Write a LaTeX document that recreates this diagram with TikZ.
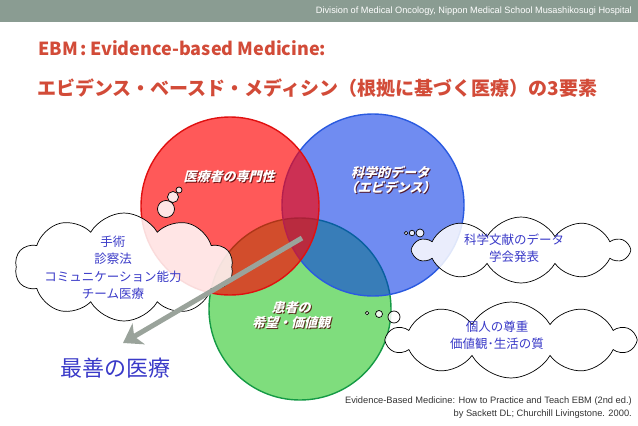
\documentclass[tikz,border=0pt]{standalone}
\usepackage{fontspec}
\setmainfont{Liberation Sans}
\newfontfamily\jp{Noto Sans CJK JP}
\newfontfamily\jpsl{Noto Sans CJK JP}[FakeSlant=0.25]
\usetikzlibrary{shapes.symbols,arrows.meta}
\definecolor{band}{HTML}{8A9C92}
\definecolor{titlered}{HTML}{D24B38}
\definecolor{txtblue}{HTML}{3A3AC8}
\definecolor{redbase}{RGB}{255,0,0}
\definecolor{bluebase}{RGB}{0,50,230}
\definecolor{greenbase}{RGB}{10,190,5}
\definecolor{rededge}{HTML}{E01010}
\definecolor{blueedge}{HTML}{2A5AE0}
\definecolor{greenedge}{HTML}{159A45}
\definecolor{arrowgray}{HTML}{9AA39B}
\tikzset{
  venn/.style={circle, minimum size=#1, inner sep=0pt, line width=1.4pt},
  puff/.style={cloud, cloud puffs=10, cloud puff arc=120, cloud ignores aspect, draw=black, line width=0.7pt, fill=white, fill opacity=0.85, inner sep=0pt},
  bubble/.style={circle, draw=black, line width=0.7pt, fill=white, fill opacity=0.85, inner sep=0pt, minimum size=#1},
  cloudtxt/.style={font=\jp\fontsize{12.5}{17.5}\selectfont, text=txtblue, align=center},
  lbl/.style={font=\jpsl\bfseries\fontsize{13}{15}\selectfont, align=center},
}
\begin{document}
\begin{tikzpicture}[x=1pt,y=-1pt]
\useasboundingbox (0,0) rectangle (638,426);
% header band
\fill[band] (0,0) rectangle (638,22);
\node[anchor=east, text=white, font=\fontsize{9.2}{10}\selectfont, inner sep=0pt] (hdr) at (632,11) {Division of Medical Oncology, Nippon Medical School Musashikosugi Hospital};
% titles
\node[anchor=west, text=titlered, font=\jp\bfseries\fontsize{18}{20}\selectfont, inner sep=0pt] (t1) at (38,48) {EBM\,:\,Evidence-based Medicine:};
\node[anchor=west, text=titlered, font=\jp\bfseries\fontsize{19}{22}\selectfont, inner sep=0pt] (t2) at (37,88) {エビデンス・ベースド・メディシン（根拠に基づく医療）の3要素};
% Venn circles (green, blue, red order)
\node[venn=182pt, fill=greenbase, fill opacity=0.52, draw=greenedge] (green) at (300,309) {};
\node[venn=182pt, fill=bluebase, fill opacity=0.56, draw=blueedge] (blue) at (373,205) {};
\node[venn=178pt, fill=redbase, fill opacity=0.65, draw=rededge] (red) at (230,206) {};
% circle labels
\node[lbl, text=black!70!red, opacity=0.8] at (230,178) {医療者の専門性};
\node[lbl, text=white] (lred) at (229,177) {医療者の専門性};
\node[lbl, text=black!70!red, opacity=0.8] at (391,181) {科学的データ\\（エビデンス）};
\node[lbl, text=white] (lblue) at (390,180) {科学的データ\\（エビデンス）};
\node[lbl, text=black!70!red, opacity=0.8] at (292,316) {患者の\\希望・価値観};
\node[lbl, text=white] (lgreen) at (291,315) {患者の\\希望・価値観};
% clouds
\node[puff, minimum width=218pt, minimum height=108pt] (c1) at (124,267) {};
\node[cloudtxt] (c1t) at (113,268) {手術\\診察法\\コミュニケーション能力\\チーム医療};
\node[bubble=17pt] (b11) at (166,209) {};
\node[bubble=11pt] (b12) at (173,197) {};
\node[bubble=6pt] (b13) at (179,190) {};
\node[puff, minimum width=214pt, minimum height=66pt] (c2) at (521,250) {};
\node[cloudtxt] (c2t) at (514,248) {科学文献のデータ\\学会発表};
\node[bubble=8pt] (b21) at (420,233) {};
\node[bubble=5.5pt] (b22) at (412,233) {};
\node[bubble=3.5pt] (b23) at (406,233) {};
\node[puff, minimum width=246pt, minimum height=76pt] (c3) at (511,340) {};
\node[cloudtxt] (c3t) at (497,335) {個人の尊重\\価値観･生活の質};
\node[bubble=12pt] (b31) at (394,317) {};
\node[bubble=7pt] (b32) at (379,314) {};
\node[bubble=3.5pt] (b33) at (367,313) {};
% arrow
\coordinate (as) at (302,238);
\coordinate (ae) at (123,343);
\draw[arrowgray, line width=5pt, -{Stealth[length=18pt, width=24pt, inset=5pt]}] (as) -- (ae);
% result
\node[font=\jp\fontsize{22}{24}\selectfont, text=txtblue, inner sep=0pt] (best) at (115,368) {最善の医療};
% citation
\node[anchor=east, align=right, font=\fontsize{9.3}{13}\selectfont, text=black!80, inner sep=0pt] (cite) at (632,408) {Evidence-Based Medicine: How to Practice and Teach EBM (2nd ed.)\\by Sackett DL; Churchill Livingstone. 2000.};
\end{tikzpicture}
\end{document}
